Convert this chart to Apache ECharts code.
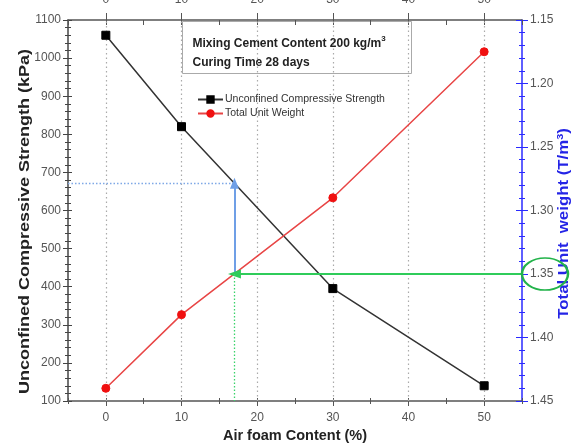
<!DOCTYPE html>
<html>
<head>
<meta charset="utf-8">
<script src="https://cdn.jsdelivr.net/npm/echarts@6/dist/echarts.min.js"></script>
<style>
  html, body { margin: 0; padding: 0; background: #fff; }
  #chart { width: 577px; height: 444px; }
</style>
</head>
<body>
<div id="chart"></div>
<script>
// Air foam content (%) of each mix
const foamContent = [0, 10, 30, 50];
// Unconfined compressive strength (kPa)
const strength = [1060, 820, 395, 140];
// Total unit weight (T/m3)
const unitWeight = [1.440, 1.382, 1.290, 1.175];

// Axis ranges and tick labels
const xMin = -5, xMax = 55;
const xTickLabels = [0, 10, 20, 30, 40, 50];
const strengthMin = 100, strengthMax = 1100, strengthStep = 100;
const weightMin = 1.15, weightMax = 1.45, weightStep = 0.05;

// Reading: target unit weight -> air foam content -> strength
const targetWeight = 1.35;
const targetFoam = 17;

function interp(xs, ys, x) {
  for (let i = 0; i < xs.length - 1; i++) {
    if (x >= xs[i] && x <= xs[i + 1]) {
      const t = (x - xs[i]) / (xs[i + 1] - xs[i]);
      return ys[i] + t * (ys[i + 1] - ys[i]);
    }
  }
  return ys[ys.length - 1];
}
const strengthAtTarget = interp(foamContent, strength, targetFoam);
// unit weight expressed on the strength axis (both axes share the plot height; weight axis is inverted)
const weightOnStrengthAxis = strengthMax - (targetWeight - weightMin) / (weightMax - weightMin) * (strengthMax - strengthMin);

const FONT = '"Liberation Sans", Arial, sans-serif';
const AX = '#555';
const BLUE_AX = '#2a2aff';
const GRID = { left: 68, right: 55, top: 20, bottom: 43 };
const W = 577, H = 444;

const chart = echarts.init(document.getElementById('chart'));

const xCommon = { type: 'value', min: xMin, max: xMax, interval: 5, splitLine: { show: false } };
const yLeft = { type: 'value', min: strengthMin, max: strengthMax, interval: strengthStep, splitLine: { show: false } };
const yRight = { type: 'value', min: weightMin, max: weightMax, interval: weightStep, inverse: true, splitLine: { show: false } };
const hiddenLine = { show: false, onZero: false };

const plotMidY = GRID.top + (H - GRID.top - GRID.bottom) / 2;

const option = {
  animation: false,
  backgroundColor: '#fff',
  textStyle: { fontFamily: FONT },
  grid: Object.assign({ containLabel: false, outerBoundsMode: 'none' }, GRID),
  legend: {
    left: 197, top: 94, orient: 'vertical', itemGap: 3, padding: 0,
    itemWidth: 25, itemHeight: 8,
    textStyle: { fontSize: 10.5, color: '#333', fontFamily: FONT, padding: [0, 0, 0, -3] },
    data: ['Unconfined Compressive Strength', 'Total Unit Weight']
  },
  xAxis: [
    Object.assign({}, xCommon, {
      position: 'bottom',
      name: 'Air foam Content (%)', nameLocation: 'middle', nameGap: 22,
      nameTextStyle: { fontSize: 14.5, fontWeight: 'bold', color: '#222', fontFamily: FONT },
      axisLine: { onZero: false, lineStyle: { color: AX, width: 1.5 } },
      axisTick: { inside: false, length: 3, lineStyle: { color: AX } },
      axisLabel: { customValues: xTickLabels, margin: 11, fontSize: 12, color: AX, fontFamily: FONT }
    }),
    Object.assign({}, xCommon, {
      position: 'bottom',
      axisLine: hiddenLine,
      axisTick: { inside: true, length: 3, lineStyle: { color: AX } },
      axisLabel: { show: false }
    }),
    Object.assign({}, xCommon, {
      position: 'bottom',
      axisLine: hiddenLine,
      axisTick: { inside: false, length: 5, customValues: xTickLabels, lineStyle: { color: AX } },
      axisLabel: { show: false }
    }),
    Object.assign({}, xCommon, {
      position: 'top',
      axisLine: { onZero: false, lineStyle: { color: AX, width: 1.5 } },
      axisTick: { inside: true, length: 5, lineStyle: { color: AX } },
      axisLabel: { customValues: xTickLabels, margin: 14, fontSize: 12, color: AX, fontFamily: FONT }
    }),
    Object.assign({}, xCommon, {
      position: 'top',
      axisLine: hiddenLine,
      axisTick: { inside: false, length: 7, customValues: xTickLabels, lineStyle: { color: AX } },
      axisLabel: { show: false }
    })
  ],
  yAxis: [
    Object.assign({}, yLeft, {
      position: 'left',
      axisLine: { onZero: false, lineStyle: { color: '#444', width: 1.5 } },
      axisTick: { inside: false, length: 5, lineStyle: { color: '#444' } },
      minorTick: { show: true, splitNumber: 5, length: 3, lineStyle: { color: '#444' } },
      axisLabel: { margin: 7, fontSize: 12, color: AX, fontFamily: FONT, formatter: v => String(v) }
    }),
    Object.assign({}, yRight, {
      position: 'right',
      axisLine: { onZero: false, lineStyle: { color: BLUE_AX, width: 1.5 } },
      axisTick: { inside: false, length: 6, lineStyle: { color: BLUE_AX } },
      minorTick: { show: true, splitNumber: 5, length: 3, lineStyle: { color: BLUE_AX } },
      axisLabel: { margin: 8, fontSize: 12, color: AX, fontFamily: FONT, formatter: v => v.toFixed(2) }
    }),
    Object.assign({}, yLeft, {
      position: 'left',
      axisLine: hiddenLine,
      axisTick: { inside: true, length: 4, lineStyle: { color: '#444' } },
      minorTick: { show: true, splitNumber: 5, length: 3, lineStyle: { color: '#444' } },
      axisLabel: { show: false }
    }),
    Object.assign({}, yRight, {
      position: 'right',
      axisLine: hiddenLine,
      axisTick: { inside: true, length: 6, lineStyle: { color: BLUE_AX } },
      minorTick: { show: true, splitNumber: 5, length: 3, lineStyle: { color: BLUE_AX } },
      axisLabel: { show: false }
    })
  ],
  series: [
    {
      // vertical dotted guides at the labelled foam contents
      name: 'guides', type: 'line', data: [], xAxisIndex: 0, yAxisIndex: 0, z: 1,
      markLine: {
        z: 1, silent: true, symbol: ['none', 'none'], label: { show: false },
        lineStyle: { type: [1.5, 3], color: '#aaa', width: 1.2 },
        data: xTickLabels.map(v => ({ xAxis: v }))
      }
    },
    {
      name: 'Unconfined Compressive Strength', type: 'line', xAxisIndex: 0, yAxisIndex: 0, z: 3,
      data: foamContent.map((f, i) => [f, strength[i]]),
      symbol: 'rect', symbolSize: 8,
      itemStyle: { color: '#000', borderColor: '#000', borderWidth: 1 },
      lineStyle: { color: '#333', width: 1.5 },
      markLine: {
        silent: true, label: { show: false }, animation: false,
        data: [
          [
            { coord: [xMin, strengthAtTarget], symbol: 'none', lineStyle: { type: [1.5, 2], color: '#7ea8e6', width: 1.3 } },
            { coord: [targetFoam, strengthAtTarget], symbol: 'none' }
          ],
          [
            { coord: [targetFoam, weightOnStrengthAxis], symbol: 'none', lineStyle: { type: 'solid', color: '#6f9fe6', width: 2 } },
            { coord: [targetFoam, strengthAtTarget], symbol: 'triangle', symbolSize: [9, 11] }
          ]
        ]
      }
    },
    {
      name: 'Total Unit Weight', type: 'line', xAxisIndex: 0, yAxisIndex: 1, z: 3,
      data: foamContent.map((f, i) => [f, unitWeight[i]]),
      symbol: 'circle', symbolSize: 8,
      itemStyle: { color: '#f01010', borderColor: '#f01010', borderWidth: 1 },
      lineStyle: { color: '#e84545', width: 1.5 },
      markLine: {
        silent: true, label: { show: false }, animation: false,
        data: [
          [
            { coord: [xMax, targetWeight], symbol: 'none', lineStyle: { type: 'solid', color: '#2fcc5a', width: 2 } },
            { coord: [targetFoam, targetWeight], symbol: 'triangle', symbolSize: [9, 13] }
          ],
          [
            { coord: [targetFoam, targetWeight], symbol: 'none', lineStyle: { type: [1.5, 2], color: '#3ad36a', width: 1.3 } },
            { coord: [targetFoam, weightMax], symbol: 'none' }
          ]
        ]
      }
    }
  ],
  graphic: [
    {
      type: 'group', left: 182, top: 21, z: 10,
      children: [
        { type: 'rect', shape: { x: 0, y: 0, width: 229, height: 52 }, style: { fill: '#fff', stroke: '#aaa', lineWidth: 1 } },
        {
          type: 'text', x: 10, y: 13,
          style: {
            text: '{b|Mixing Cement Content 200 kg/m}{s|3}\n{b|Curing Time 28 days}',
            rich: {
              b: { fontSize: 12, fontWeight: 'bold', fill: '#222', fontFamily: FONT, lineHeight: 19 },
              s: { fontSize: 8, fontWeight: 'bold', fill: '#222', fontFamily: FONT, verticalAlign: 'top', padding: [0, 0, 8, 0] }
            }
          }
        }
      ]
    },
    {
      // left axis title, drawn tall along the axis
      type: 'text', x: 25, y: plotMidY + 11, rotation: Math.PI / 2, scaleX: 1.2, z: 10,
      style: {
        text: 'Unconfined Compressive Strength (kPa)', align: 'center', verticalAlign: 'middle',
        fontSize: 15, fontWeight: 'bold', fill: '#222', fontFamily: FONT
      }
    },
    {
      // right axis title
      type: 'text', x: 564, y: plotMidY + 13, rotation: Math.PI / 2, scaleX: 1.2, z: 10,
      style: {
        text: '{t|Total Unit  weight (T/m}{s|3}{t|)}', align: 'center', verticalAlign: 'middle',
        rich: {
          t: { fontSize: 14, fontWeight: 'bold', fill: '#2424e6', fontFamily: FONT },
          s: { fontSize: 9, fontWeight: 'bold', fill: '#2424e6', fontFamily: FONT, verticalAlign: 'top', padding: [0, 0, 6, 0] }
        }
      }
    }
  ]
};

chart.setOption(option);

// ring around the target unit-weight tick label
const ax = chart.convertToPixel({ xAxisIndex: 0 }, xMax);
const ay = chart.convertToPixel({ yAxisIndex: 1 }, targetWeight);
chart.setOption({
  graphic: option.graphic.concat([
    {
      type: 'circle', x: ax + 23, y: ay, scaleY: 16 / 23, z: 11,
      shape: { cx: 0, cy: 0, r: 23 },
      style: { fill: 'none', stroke: '#22b34a', lineWidth: 2.5 }
    }
  ])
});
</script>
</body>
</html>
